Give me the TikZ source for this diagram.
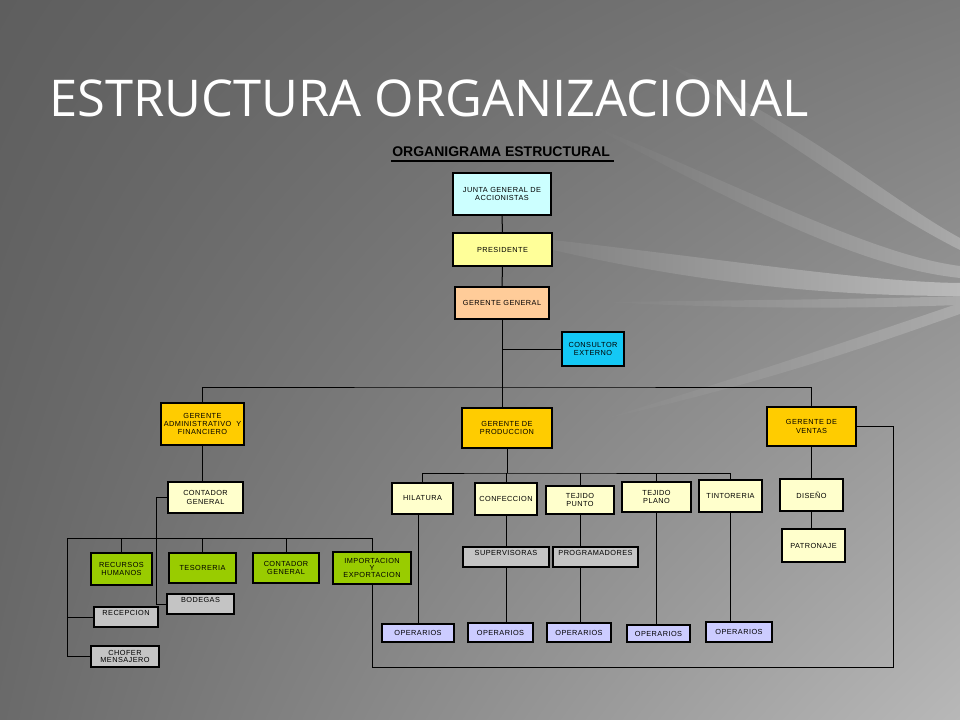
\documentclass[tikz,border=0pt]{standalone}
\usepackage{fontspec}
\setmainfont{Liberation Sans}
\newfontfamily\titlefont{Open Sans}
\newfontfamily\boxfont{Liberation Sans}[LetterSpace=6]
\usetikzlibrary{fit,calc,shadings}
\definecolor{cjunta}{HTML}{CCFFFF}
\definecolor{cpres}{HTML}{FFFF99}
\definecolor{cgg}{HTML}{FFCC99}
\definecolor{ccons}{HTML}{14C8F5}
\definecolor{cger}{HTML}{FFCC00}
\definecolor{clt}{HTML}{FFFFCC}
\definecolor{cgreen}{HTML}{99CC00}
\definecolor{cgray}{HTML}{C4C4C4}
\definecolor{cop}{HTML}{CCCCFF}
\definecolor{bgul}{HTML}{5E5E5E}
\definecolor{bgur}{HTML}{7A7A7A}
\definecolor{bgll}{HTML}{6A6A6A}
\definecolor{bglr}{HTML}{B8B8B8}
\definecolor{sa}{RGB}{117,117,117}
\definecolor{sb}{RGB}{117,117,117}
\definecolor{sc}{RGB}{120,120,120}
\definecolor{sd}{RGB}{130,130,130}
\definecolor{se}{RGB}{137,137,137}
\definecolor{shi}{RGB}{170,170,170}
\definecolor{shj}{RGB}{186,186,186}
\tikzset{
  boxst/.style={draw=black, line width=0.8pt, inner sep=0pt},
  ctrlbl/.style={anchor=center, inner sep=0pt, yshift=0pt, align=center,
    font=\boxfont\fontsize{5.5}{6.3}\selectfont},
  toplbl/.style={anchor=north, inner sep=0pt, yshift=-2.6pt, align=center,
    font=\boxfont\fontsize{5.5}{6.3}\selectfont},
  conn/.style={draw=black, line width=0.75pt},
}
\newcommand\bx[7]{\node[boxst, fill=#6, fit={(#2,#3) (#4,#5)}, label={[ctrlbl]center:{#7}}] (#1) {};}
\newcommand\bxt[7]{\node[boxst, fill=#6, fit={(#2,#3) (#4,#5)}, label={[toplbl]north:{#7}}] (#1) {};}
\begin{document}
\begin{tikzpicture}[x=0.75pt, y=-0.75pt]
\useasboundingbox (0,0) rectangle (960,720);
% background
\shade[upper left=bgul, upper right=bgur, lower left=bgll, lower right=bglr] (0,0) rectangle (960,720);
\shade[left color=sa, right color=shi] (660,60) .. controls (800,120) and (890,200) .. (960,238) -- (960,250) .. controls (880,210) and (780,135) .. (660,60) -- cycle;
\shade[left color=sb, right color=shi] (580,120) .. controls (760,195) and (875,255) .. (960,266) -- (960,278) .. controls (865,268) and (750,212) .. (580,120) -- cycle;
\shade[left color=sc, right color=shj] (480,232) .. controls (700,255) and (860,282) .. (960,283) -- (960,296) .. controls (850,296) and (690,288) .. (480,232) -- cycle;
\shade[left color=sd, right color=shi] (600,302) .. controls (760,300) and (880,299) .. (960,296) -- (960,305) .. controls (870,308) and (760,310) .. (600,302) -- cycle;
\shade[left color=se, right color=shi] (600,420) .. controls (770,368) and (880,330) .. (960,303) -- (960,314) .. controls (880,342) and (770,382) .. (600,420) -- cycle;
% titles
\node[anchor=base west, inner sep=0pt, text=white, font=\titlefont\fontsize{38}{40}\selectfont] (title) at (49,117) {ESTRUCTURA ORGANIZACIONAL};
\node[anchor=base west, inner sep=0pt, font=\bfseries\fontsize{10.5}{12}\selectfont] (sub) at (392,157) {ORGANIGRAMA ESTRUCTURAL};
\draw[line width=1.3pt] ($(sub.base west)+(-1,4)$) -- ($(sub.base east)+(4,4)$);
% top chain
\bx{junta}{453}{173}{551}{215}{cjunta}{JUNTA GENERAL DE\\ACCIONISTAS}
\bx{pres}{453}{233}{552}{266}{cpres}{PRESIDENTE}
\bx{gg}{455}{287}{549}{319}{cgg}{GERENTE GENERAL}
\bx{cons}{562}{332}{624}{366}{ccons}{CONSULTOR\\EXTERNO}
% managers
\bx{gadm}{161}{403}{244}{445}{cger}{GERENTE\\ADMINISTRATIVO\ \ Y\\FINANCIERO}
\bx{gprod}{462}{408}{552}{448}{cger}{GERENTE DE\\PRODUCCION}
\bx{gven}{767}{407}{856}{446}{cger}{GERENTE DE\\VENTAS}
% admin branch
\bx{cont}{168}{482}{243}{513}{clt}{CONTADOR\\GENERAL}
\bx{rrhh}{91}{553}{152}{585}{cgreen}{RECURSOS\\HUMANOS}
\bx{teso}{169}{553}{236}{583}{cgreen}{TESORERIA}
\bx{cont2}{253}{553}{319}{583}{cgreen}{CONTADOR\\GENERAL}
\bx{impo}{333}{552}{411}{584}{cgreen}{IMPORTACION\\[-0.8pt]Y\\[-0.8pt]EXPORTACION}
\bxt{bode}{167}{594}{234}{614}{cgray}{BODEGAS}
\bxt{recep}{94}{607}{158}{627}{cgray}{RECEPCION}
\bx{chof}{91}{646}{159}{667}{cgray}{CHOFER\\[-0.8pt]MENSAJERO}
% production branch
\bx{hila}{392}{483}{453}{514}{clt}{HILATURA}
\bx{conf}{475}{483}{537}{515}{clt}{CONFECCION}
\bx{tpun}{546}{486}{614}{514}{clt}{TEJIDO\\PUNTO}
\bx{tpla}{622}{482}{691}{512}{clt}{TEJIDO\\PLANO}
\bx{tint}{699}{480}{762}{512}{clt}{TINTORERIA}
\bxt{superv}{463}{547}{549}{567}{cgray}{SUPERVISORAS}
\bxt{prog}{553}{547}{638}{567}{cgray}{PROGRAMADORES}
\bx{op1}{382}{624}{454}{642}{cop}{OPERARIOS}
\bx{op2}{468}{623}{533}{642}{cop}{OPERARIOS}
\bx{op3}{547}{623}{611}{642}{cop}{OPERARIOS}
\bx{op4}{627}{625}{690}{642}{cop}{OPERARIOS}
\bx{op5}{706}{622}{772}{642}{cop}{OPERARIOS}
% sales branch
\bx{dise}{780}{479}{843}{511}{clt}{DISEÑO}
\bx{patr}{782}{529}{845}{562}{clt}{PATRONAJE}
% connectors
\coordinate (b1) at (503,387);
\coordinate (lb) at (67,538);
\coordinate (pb) at (505,473);
\coordinate (rc) at (893,667);
\draw[conn] (junta.south) -- (pres.north);
\draw[conn] (pres.south) -- (gg.north);
\draw[conn] (gg.south) -- (gg.south |- gprod.north);
\draw[conn] (cons.west) -- (cons.west -| gg.south);
\draw[conn] (gadm.north) |- (b1) -| (gven.north);
\draw[conn] (gadm.south) -- (gadm.south |- cont.north);
\draw[conn] (cont.west) -- ++(-11,0) |- (bode.west);
\draw[conn] (lb) -- (lb -| impo.north) -- (impo.north);
\draw[conn] (rrhh.north) -- (rrhh.north |- lb);
\draw[conn] (teso.north) -- (teso.north |- lb);
\draw[conn] (cont2.north) -- (cont2.north |- lb);
\draw[conn] (lb) |- (chof.west);
\draw[conn] (recep.west) -- (recep.west -| lb);
\draw[conn] (gprod.south) -- (gprod.south |- pb);
\draw[conn] (hila.north) |- (pb) -| (tint.north);
\draw[conn] (conf.north) -- (conf.north |- pb);
\draw[conn] (tpun.north) -- (tpun.north |- pb);
\draw[conn] (tpla.north) -- (tpla.north |- pb);
\draw[conn] (op1.north) -- (op1.north |- hila.south);
\draw[conn] (conf.south) -- (conf.south |- superv.north);
\draw[conn] (superv.south) -- (superv.south |- op2.north);
\draw[conn] (tpun.south) -- (tpun.south |- prog.north);
\draw[conn] (prog.south -| tpun.south) -- (tpun.south |- op3.north);
\draw[conn] (tpla.south) -- (tpla.south |- op4.north);
\draw[conn] (tint.south) -- (tint.south |- op5.north);
\draw[conn] (gven.south) -- (gven.south |- dise.north);
\draw[conn] (dise.south) -- (dise.south |- patr.north);
\draw[conn] (gven.east) -| (rc) -| (impo.south);
\end{tikzpicture}
\end{document}
